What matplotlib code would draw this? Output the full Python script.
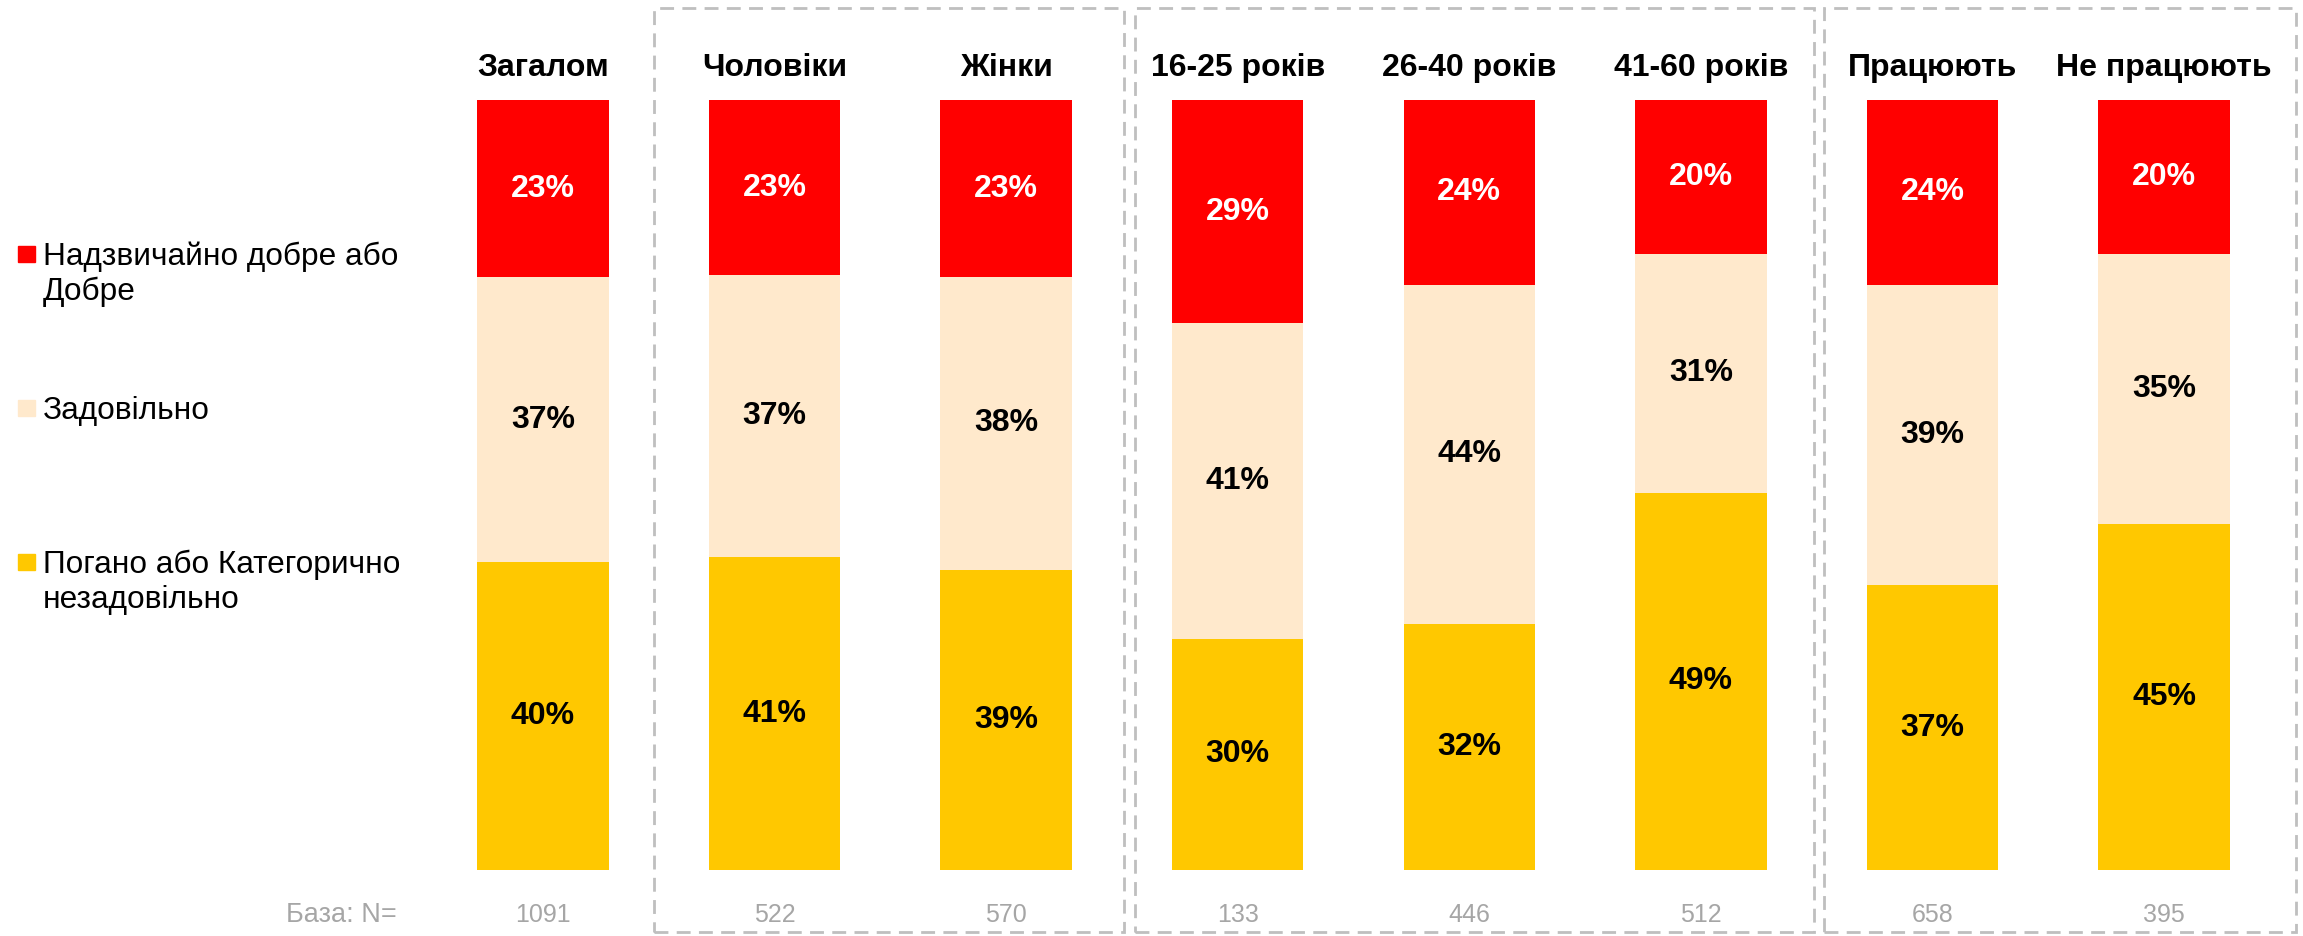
import numpy as np
import matplotlib.pyplot as plt
from matplotlib.patches import Rectangle

plt.rcParams['font.family'] = ['Liberation Sans', 'DejaVu Sans']

groups = ['Загалом', 'Чоловіки', 'Жінки', '16-25 років', '26-40 років',
          '41-60 років', 'Працюють', 'Не працюють']
good = [23, 23, 23, 29, 24, 20, 24, 20]
fair = [37, 37, 38, 41, 44, 31, 39, 35]
bad = [40, 41, 39, 30, 32, 49, 37, 45]
base_n = [1091, 522, 570, 133, 446, 512, 658, 395]

series_labels = ['Надзвичайно добре або\nДобре', 'Задовільно',
                 'Погано або Категорично\nнезадовільно']
colors = ['#FF0000', '#FFE9CC', '#FFC800']
text_colors = ['white', 'black', 'black']

# dashed group frames, in bar-index units (left, right)
frames = [(0.48, 2.51), (2.557, 5.489), (5.532, 7.57)]

W, H = 2303, 936
fig = plt.figure(figsize=(W / 100, H / 100), dpi=100)
ax = fig.add_axes([427 / W, (H - 870) / H, (2280 - 427) / W, 770 / H])
ax.set_xlim(-0.5, len(groups) - 0.5)
ax.set_ylim(0, 1)
ax.axis('off')

x = np.arange(len(groups))
totals = np.array(good) + np.array(fair) + np.array(bad)
bottom = np.zeros(len(groups))
# stacked from the bottom: bad, fair, good
for vals, col, tc in zip([bad, fair, good], colors[::-1], text_colors[::-1]):
    h = np.array(vals) / totals
    ax.bar(x, h, bottom=bottom, width=0.568, color=col, edgecolor='none')
    for xi, b, hi, v in zip(x, bottom, h, vals):
        ax.text(xi, b + hi / 2, f'{v}%', ha='center', va='center',
                fontsize=23, fontweight='bold', color=tc)
    bottom += h

for xi, g, n in zip(x, groups, base_n):
    ax.text(xi, 1.042, g, ha='center', va='center', fontsize=23,
            fontweight='bold', color='black', clip_on=False)
    ax.text(xi, -0.058, str(n), ha='center', va='center', fontsize=18,
            color='#A6A6A6', clip_on=False)
ax.text(-0.63, -0.058, 'База: N=', ha='right', va='center', fontsize=19.5,
        color='#A6A6A6', clip_on=False)

for left, right in frames:
    ax.add_patch(Rectangle((left, -0.08), right - left, 1.2, fill=False,
                           edgecolor='#BFBFBF', linestyle=(0, (5, 3)),
                           linewidth=2, clip_on=False))

# legend on the left (square centre y in pixels from top)
leg_y = [254, 408, 562]
line_step = 35
for yy, lab, col in zip(leg_y, series_labels, colors):
    fig.patches.append(Rectangle((18 / W, (H - yy - 8) / H), 17 / W, 16 / H,
                                 transform=fig.transFigure, color=col))
    for k, line in enumerate(lab.split('\n')):
        fig.text(43 / W, (H - yy - 11 - k * line_step) / H, line,
                 ha='left', va='baseline', fontsize=22.8, color='black')

fig.savefig('out.png', dpi=100)
